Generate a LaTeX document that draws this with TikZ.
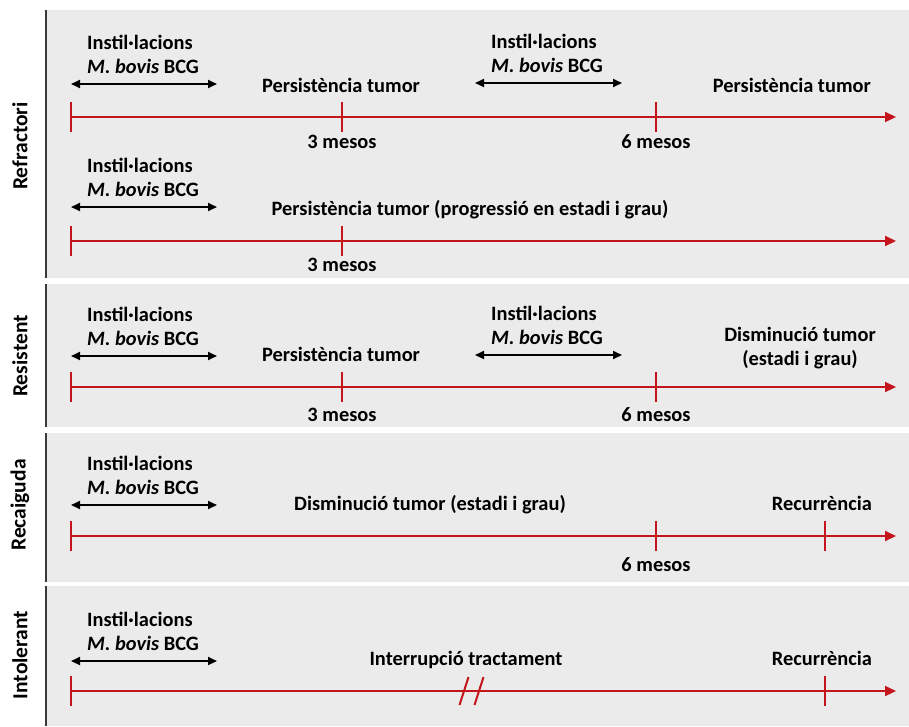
\documentclass[tikz,border=0pt]{standalone}
\usepackage{fontspec}
\setmainfont{Carlito}
\usetikzlibrary{arrows.meta}
\definecolor{panel}{HTML}{EBEBEB}
\definecolor{tl}{HTML}{C4151C}
\definecolor{edge}{HTML}{3A3A3A}
\newcommand\bcgblock[5]{% name, text x, baseline y, arrow left x, arrow right x
  \node[lbl,anchor=base west] (#1a) at (#2,#3) {Instil·lacions};
  \node[lbl,anchor=base west] (#1b) at (#2,#3+24) {\textit{M. bovis} BCG};
  \coordinate (#1l) at (#4,#3+35);
  \coordinate (#1r) at (#5,#3+35);
  \draw[dur] (#1l) -- (#1r);
}
\begin{document}
\begin{tikzpicture}[x=1pt,y=-1pt,
  lbl/.style={font=\bfseries\fontsize{20.4}{23}\selectfont, inner sep=0pt, align=center},
  side/.style={font=\bfseries\fontsize{21.5}{24}\selectfont, inner sep=0pt, rotate=90},
  timeline/.style={draw=tl, line width=2pt, -{Triangle[length=11pt,width=10pt]}},
  tickmark/.style={draw=tl, line width=2pt},
  dur/.style={draw=black, line width=1.8pt, {Triangle[length=9pt,width=8pt]}-{Triangle[length=9pt,width=8pt]}},
  border/.style={draw=edge, line width=2pt},
]
\useasboundingbox (0,0) rectangle (909,726);
\fill[white] (0,0) rectangle (909,726);
% panels
\fill[panel] (46,10) rectangle (909,278);
\fill[panel] (46,284) rectangle (909,427);
\fill[panel] (46,433) rectangle (909,582);
\fill[panel] (46,586) rectangle (909,726);
\draw[border] (46,10) -- (46,278);
\draw[border] (46,284) -- (46,427);
\draw[border] (46,433) -- (46,582);
\draw[border] (46,586) -- (46,726);
% side labels
\node[side] (s1) at (20,146) {Refractori};
\node[side] (s2) at (20,356) {Resistent};
\node[side] (s3) at (20,505) {Recaiguda};
\node[side] (s4) at (20,655) {Intolerant};

% ---------- Refractori, row 1
\bcgblock{r1p}{87}{49}{71}{217}
\bcgblock{r1q}{491}{48}{475}{622}
\node[lbl,anchor=base] (r1t1) at (341,92) {Persistència tumor};
\node[lbl,anchor=base east] (r1t2) at (871,92) {Persistència tumor};
\coordinate (r1s) at (71,117);
\coordinate (r1e) at (896,117);
\coordinate (r1m3) at (342,117);
\coordinate (r1m6) at (656,117);
\draw[timeline] (r1s) -- (r1e);
\foreach \c in {r1s,r1m3,r1m6} \draw[tickmark] ([yshift=15pt]\c) -- ([yshift=-15pt]\c);
\node[lbl,anchor=base] (r1l3) at (342,148) {3 mesos};
\node[lbl,anchor=base] (r1l6) at (656,148) {6 mesos};

% ---------- Refractori, row 2
\bcgblock{r2p}{87}{172}{71}{217}
\node[lbl,anchor=base] (r2t1) at (470,215) {Persistència tumor (progressió en estadi i grau)};
\coordinate (r2s) at (71,241);
\coordinate (r2e) at (896,241);
\coordinate (r2m3) at (342,241);
\draw[timeline] (r2s) -- (r2e);
\foreach \c in {r2s,r2m3} \draw[tickmark] ([yshift=15pt]\c) -- ([yshift=-15pt]\c);
\node[lbl,anchor=base] (r2l3) at (342,271) {3 mesos};

% ---------- Resistent
\bcgblock{r3p}{87}{321}{71}{217}
\bcgblock{r3q}{491}{320}{475}{622}
\node[lbl,anchor=base] (r3t1) at (341,361) {Persistència tumor};
\node[lbl,anchor=base] (r3t2) at (800,341) {Disminució tumor};
\node[lbl,anchor=base] (r3t3) at (800,365) {(estadi i grau)};
\coordinate (r3s) at (71,387);
\coordinate (r3e) at (896,387);
\coordinate (r3m3) at (342,387);
\coordinate (r3m6) at (656,387);
\draw[timeline] (r3s) -- (r3e);
\foreach \c in {r3s,r3m3,r3m6} \draw[tickmark] ([yshift=15pt]\c) -- ([yshift=-15pt]\c);
\node[lbl,anchor=base] (r3l3) at (342,421) {3 mesos};
\node[lbl,anchor=base] (r3l6) at (656,421) {6 mesos};

% ---------- Recaiguda
\bcgblock{r4p}{87}{470}{71}{217}
\node[lbl,anchor=base] (r4t1) at (430,510) {Disminució tumor (estadi i grau)};
\node[lbl,anchor=base] (r4t2) at (822,510) {Recurrència};
\coordinate (r4s) at (71,536);
\coordinate (r4e) at (896,536);
\coordinate (r4m6) at (656,536);
\coordinate (r4mr) at (825,536);
\draw[timeline] (r4s) -- (r4e);
\foreach \c in {r4s,r4m6,r4mr} \draw[tickmark] ([yshift=15pt]\c) -- ([yshift=-15pt]\c);
\node[lbl,anchor=base] (r4l6) at (656,571) {6 mesos};

% ---------- Intolerant
\bcgblock{r5p}{87}{626}{71}{217}
\node[lbl,anchor=base] (r5t1) at (466,665) {Interrupció tractament};
\node[lbl,anchor=base] (r5t2) at (822,665) {Recurrència};
\coordinate (r5s) at (71,691);
\coordinate (r5e) at (896,691);
\coordinate (r5b1) at (464,691);
\coordinate (r5b2) at (479,691);
\coordinate (r5mr) at (825,691);
\draw[timeline] (r5s) -- (r5e);
\foreach \c in {r5s,r5mr} \draw[tickmark] ([yshift=15pt]\c) -- ([yshift=-15pt]\c);
\foreach \c in {r5b1,r5b2} \draw[tickmark] ([xshift=-4.5pt,yshift=-14pt]\c) -- ([xshift=4.5pt,yshift=14pt]\c);
\end{tikzpicture}
\end{document}
